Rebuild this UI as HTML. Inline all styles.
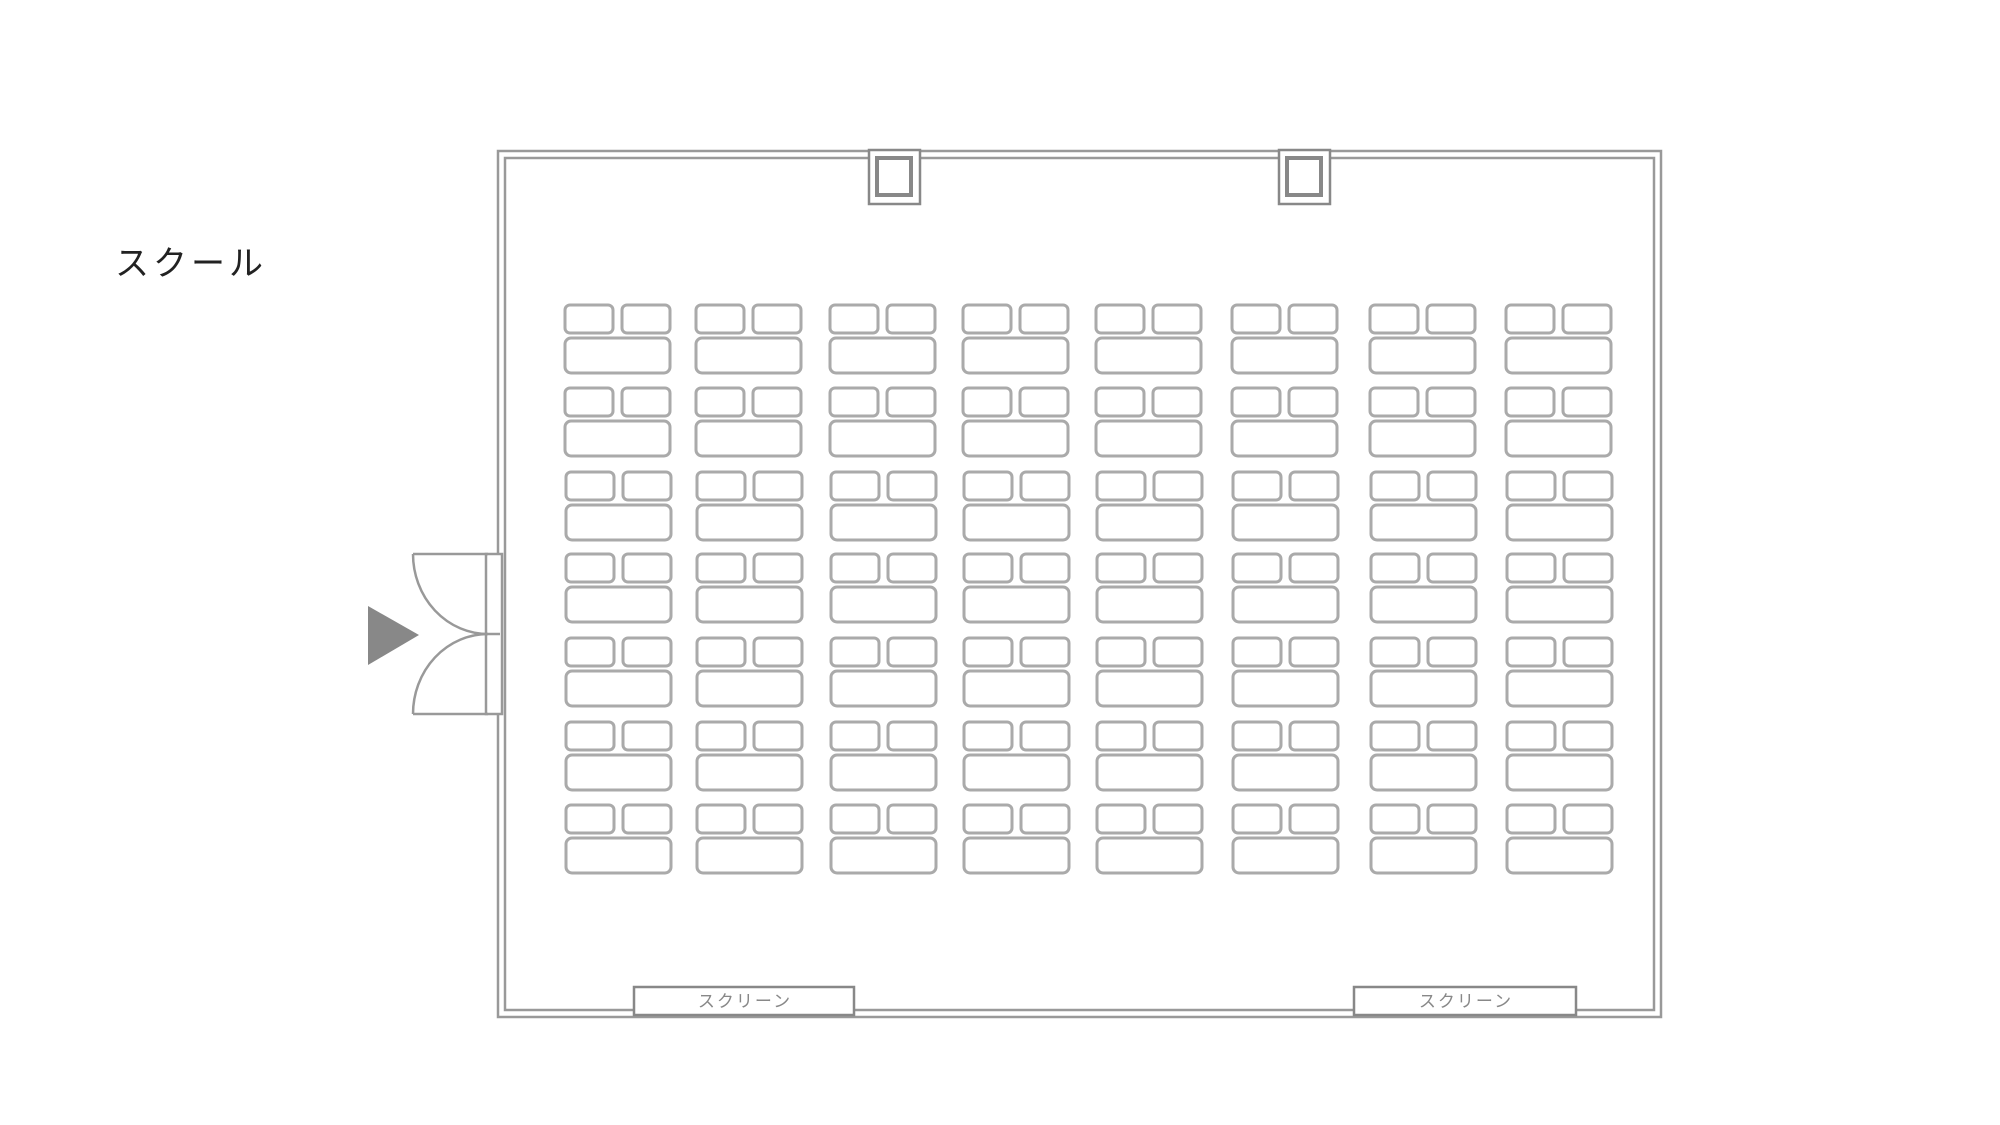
<!DOCTYPE html>
<html><head><meta charset="utf-8"><style>
html,body{margin:0;padding:0;background:#fff;}
svg{display:block;}
</style></head><body>
<svg id="s" width="2000" height="1125" viewBox="0 0 2000 1125" xmlns="http://www.w3.org/2000/svg">
<text x="115" y="275" font-family="Liberation Sans, Noto Sans CJK JP, sans-serif" font-size="34" letter-spacing="4" fill="#222">スクール</text>
<g fill="none" stroke="#999" stroke-width="2.5">
<rect x="498" y="151" width="1163" height="866"/>
<rect x="505" y="158" width="1149" height="852"/>
</g>
<g fill="#fff" stroke="#888" stroke-width="2.5">
<rect x="869" y="150" width="51" height="54"/>
<rect x="877" y="158" width="34" height="37" stroke-width="4"/>
<rect x="1279" y="150" width="51" height="54"/>
<rect x="1287" y="158" width="34" height="37" stroke-width="4"/>
</g>
<g fill="#fff" stroke="#999" stroke-width="2.5">
<rect x="486" y="554" width="16" height="160"/>
<line x1="488" y1="634" x2="500" y2="634"/>
<path d="M413 554 L488 554 M413 554 A75 80 0 0 0 488 634" fill="none"/>
<path d="M413 714 L488 714 M413 714 A75 80 0 0 1 488 634" fill="none"/>
</g>
<polygon points="368,606 368,665 419,635" fill="#888"/>
<g fill="#fff" stroke="#888" stroke-width="2.5">
<rect x="634" y="987" width="220" height="28"/>
<rect x="1354" y="987" width="222" height="28"/>
</g>
<g font-family="Liberation Sans, Noto Sans CJK JP, sans-serif" font-size="17" letter-spacing="2" fill="#888" text-anchor="middle">
<text x="745" y="1007">スクリーン</text>
<text x="1466" y="1007">スクリーン</text>
</g>
<g id="t" fill="none" stroke="#aaa" stroke-width="3"></g>
</svg>
<script>
var cols=[565,696,830,963,1096,1232,1370,1506];
var rows=[305,388,472,554,638,722,805];
var g=document.getElementById('t'),h='';
cols.forEach(function(x,ci){rows.forEach(function(y,ri){
var dx=ri>=2?1:0;var xx=x+dx;
h+='<rect x="'+xx+'" y="'+y+'" width="48" height="28" rx="5"/>';
h+='<rect x="'+(xx+57)+'" y="'+y+'" width="48" height="28" rx="5"/>';
h+='<rect x="'+xx+'" y="'+(y+33)+'" width="105" height="35" rx="6"/>';
});});
g.innerHTML=h;
</script>
</body></html>
